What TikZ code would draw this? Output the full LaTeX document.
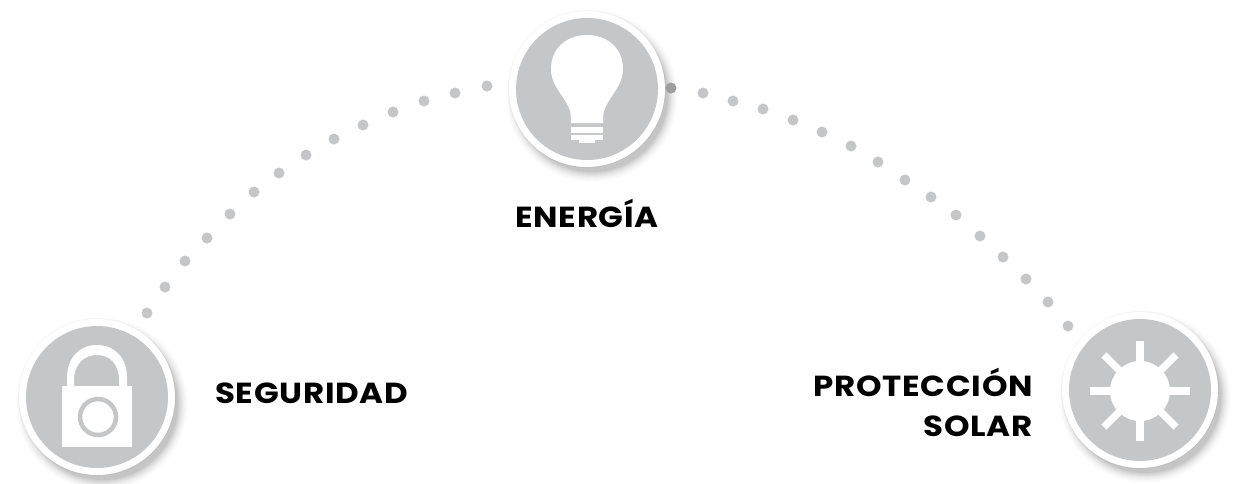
\documentclass[tikz,border=0pt]{standalone}
\usepackage{fontspec}
\setmainfont{Poppins}[LetterSpace=2.5,FakeStretch=1.12]
\definecolor{disc}{HTML}{C5C6C8}
\definecolor{dotc}{HTML}{C5C6C8}
\tikzset{
  x=1pt,y=-1pt,
  dotmark/.style={circle,fill=dotc,draw=none,inner sep=0pt,minimum size=11pt},
  labeltext/.style={font=\fontseries{sb}\selectfont\fontsize{29}{36}\selectfont,text=black,inner sep=0pt},
  iconfill/.style={fill=white,draw=none},
}
\newcommand{\badge}[2]{%
  \foreach \r/\o in {86/.008,85/.01,84/.012,83/.014,82/.016,81/.02,80/.024,79/.028,78/.032,77/.036,76/.04}{
    \fill[black,opacity=\o] (#1+5,#2+7) circle[radius=\r];}
  \fill[black,opacity=.03] (#1,#2) circle[radius=79];
  \fill[white] (#1,#2) circle[radius=78];
  \fill[disc] (#1,#2) circle[radius=71];
}
\begin{document}
\begin{tikzpicture}
\useasboundingbox (0,0) rectangle (1236,483);
\fill[white] (0,0) rectangle (1236,483);
\foreach \n/\x/\y in {a1/147/313,a2/165/287,a3/185/261,a4/207/238,a5/230/214,a6/254/192,a7/279/173,a8/306/155,a9/334/139,a10/363/125,a11/393/112,a12/424/101,a13/455/93,a14/487/86,
b2/703/93,b3/733/101,b4/763/109,b5/793/120,b6/822/132,b7/851/146,b8/878/162,b9/905/180,b10/931/197,b11/956/215,b12/980/236,b13/1003/257,b14/1026/279,b15/1048/302,b16/1068/326}
  \node[dotmark] (\n) at (\x,\y) {};
% top badge: bulb
\badge{587}{89}
\node[dotmark,fill=black!38] (b1) at (671,88) {};
\fill[iconfill] (551,69) .. controls (551,48) and (567,35) .. (587,35)
  .. controls (607,35) and (623,48) .. (623,69)
  .. controls (623,85) and (612,93) .. (605,108)
  .. controls (603,113) and (603,118) .. (603,123)
  -- (571,123) .. controls (571,118) and (571,113) .. (569,108)
  .. controls (562,93) and (551,85) .. (551,69) -- cycle;
\fill[iconfill] (571,127) rectangle (603,133);
\fill[iconfill] (571,135) rectangle (603,140);
\fill[iconfill] (579,140) rectangle (595,143);
% lock badge
\badge{97}{397}
\fill[iconfill,even odd rule] (67,387) -- (67,378) .. controls (67,357) and (80,345) .. (97,345) .. controls (114,345) and (127,357) .. (127,378) -- (127,387) -- cycle
  (74,387) -- (74,380) .. controls (74,364) and (84,355) .. (97,355) .. controls (110,355) and (119,364) .. (119,380) -- (119,387) -- cycle;
\fill[iconfill] (62,386) rectangle (132,447);
\draw[disc,line width=4.5pt,fill=white] (98,417) circle[radius=18];
% sun badge
\badge{1140}{390}
\fill[iconfill] (1140,391) circle[radius=30];
\foreach \a in {0,90,180,270}{
  \draw[white,line width=7.3pt] (1140,391) -- ++(\a:50);
}
\foreach \a in {45,135,225,315}{
  \draw[white,line width=7.3pt] (1140,391) -- ++(\a:51);
}
% labels
\node[labeltext,anchor=base] (energia) at (587,227) {ENERGÍA};
\node[labeltext,anchor=base west] (seguridad) at (215,403) {SEGURIDAD};
\node[labeltext,anchor=base east] (proteccion) at (1033,396) {PROTECCIÓN};
\node[labeltext,anchor=base east] (solar) at (1033,436) {SOLAR};
\end{tikzpicture}
\end{document}
